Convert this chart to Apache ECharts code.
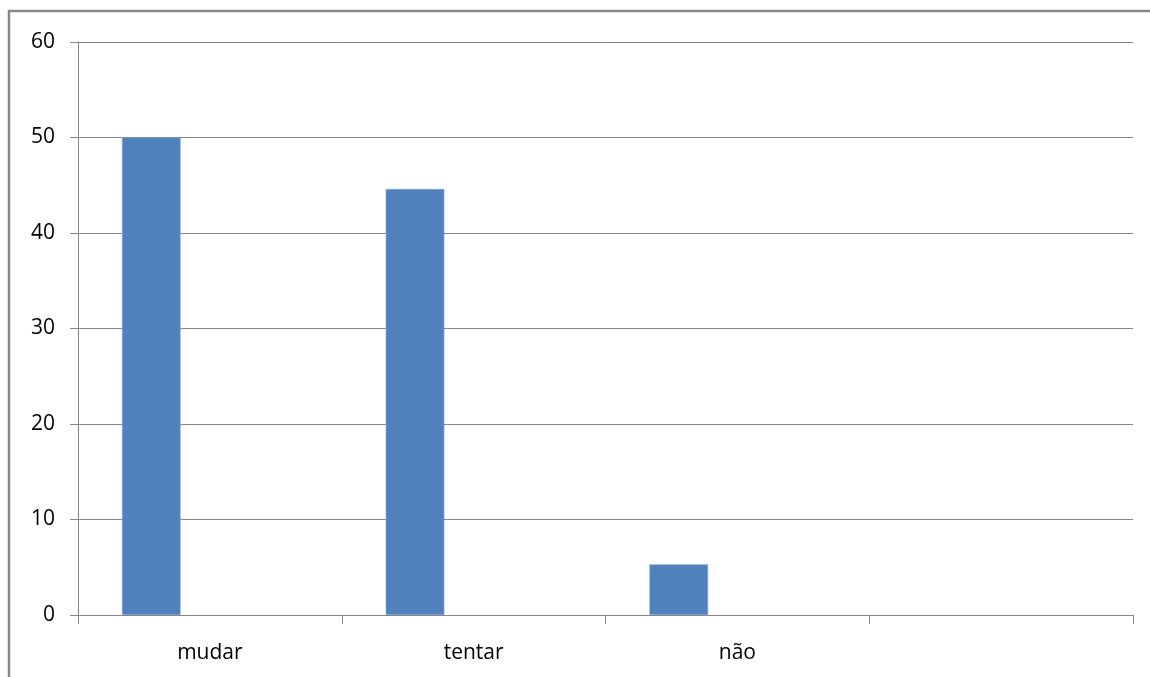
<!DOCTYPE html>
<html>
<head>
<meta charset="utf-8">
<script src="https://cdn.jsdelivr.net/npm/echarts@6/dist/echarts.min.js"></script>
<style>
  html, body { margin: 0; padding: 0; background: #fff; }
  #chart { width: 1150px; height: 677px; }
</style>
</head>
<body>
<div id="chart"></div>
<script>
// categories (last one is empty, as in the original sheet)
const categories = ['mudar', 'tentar', 'não', ''];
// only the first series has values, the other two are empty
const serie1 = [50, 44.6, 5.3, null];
const serie2 = [null, null, null, null];
const serie3 = [null, null, null, null];
const yTicks = { min: 0, max: 60, interval: 10 };

const chart = echarts.init(document.getElementById('chart'));

const fontFam = '"Open Sans", "Noto Sans", sans-serif';
const gray = '#868686';

const barSerie = (name, values) => ({
  name: name,
  type: 'bar',
  data: values,
  barWidth: 58.6,
  barGap: '0%',
  itemStyle: { color: '#4F81BD', borderColor: '#7fa3d1', borderWidth: 0.6 },
  silent: true
});

chart.setOption({
  animation: false,
  graphic: [{
    type: 'rect',
    shape: { x: 9, y: 11, width: 1200, height: 700 },
    style: { fill: 'none', stroke: gray, lineWidth: 2.5 },
    silent: true
  }],
  grid: { left: 78, right: 17, top: 42, bottom: 62 },
  xAxis: {
    type: 'category',
    data: categories,
    boundaryGap: true,
    axisLine: { lineStyle: { color: gray, width: 1 } },
    axisTick: { show: true, length: 9, alignWithLabel: false, lineStyle: { color: gray } },
    axisLabel: { color: '#000', fontSize: 21, fontFamily: fontFam, margin: 28 },
    splitLine: { show: false }
  },
  yAxis: {
    type: 'value',
    min: yTicks.min,
    max: yTicks.max,
    interval: yTicks.interval,
    axisLine: { show: true, lineStyle: { color: gray, width: 1 } },
    axisTick: { show: true, length: 8, lineStyle: { color: gray } },
    axisLabel: { color: '#000', fontSize: 21, fontFamily: fontFam, margin: 23 },
    splitLine: { show: true, lineStyle: { color: gray, width: 1 } }
  },
  series: [
    barSerie('Série 1', serie1),
    barSerie('Série 2', serie2),
    barSerie('Série 3', serie3)
  ]
});
</script>
</body>
</html>
